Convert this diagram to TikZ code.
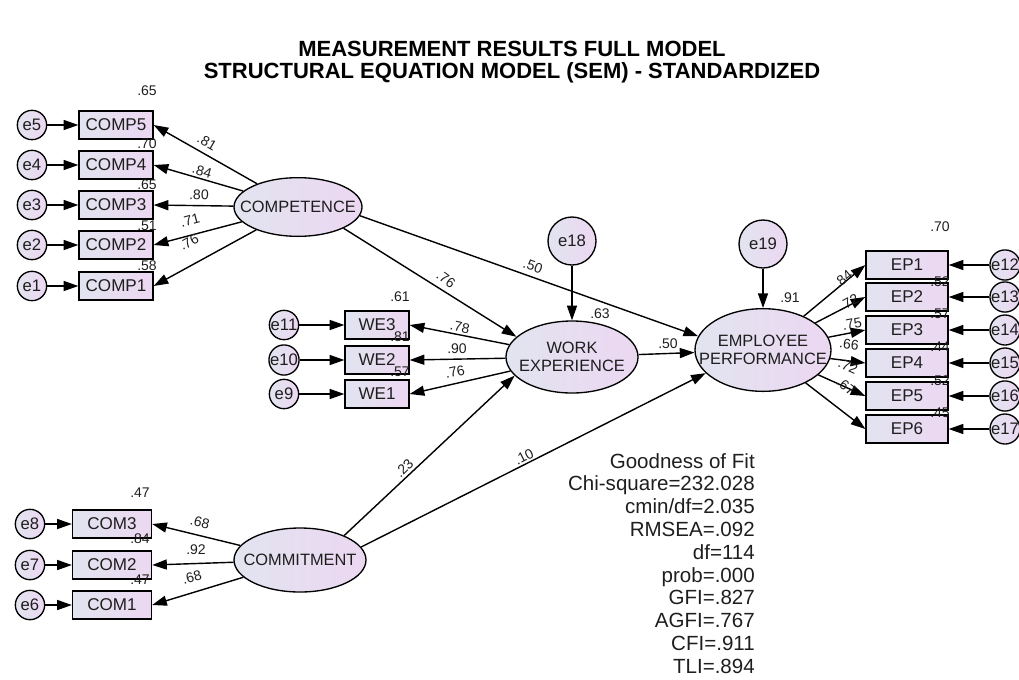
\documentclass[tikz,border=0pt]{standalone}
\usepackage{fontspec}
\setmainfont{Liberation Sans}
\usetikzlibrary{arrows.meta,shapes.geometric}
\definecolor{fillL}{RGB}{226,228,240}
\definecolor{fillR}{RGB}{236,215,241}
\definecolor{ink}{RGB}{30,30,30}
\begin{document}
\begin{tikzpicture}[x=0.75pt,y=-0.75pt,
  shade box/.style={draw=black, line width=1pt, left color=fillL, right color=fillR},
  lat/.style={shade box, ellipse, inner sep=0pt},
  lattext/.style={font=\fontsize{12.3}{13.8}\selectfont, text=ink, align=center, inner sep=0pt},
  obs/.style={shade box, rectangle, inner sep=0pt, minimum height=21pt, font=\fontsize{12.8}{13}\selectfont, text=ink},
  err/.style={shade box, circle, inner sep=0pt, minimum size=22pt, font=\fontsize{12.5}{13}\selectfont, text=ink},
  path/.style={-{Triangle[length=11pt,width=7.5pt]}, line width=1.05pt},
  est/.style={font=\fontsize{10.5}{11}\selectfont, text=ink, inner sep=0pt},
  fit/.style={font=\fontsize{15.4}{17.1}\selectfont, text=ink, align=right, inner sep=0pt},
  title/.style={font=\fontsize{16.5}{16.5}\bfseries\selectfont, align=center, inner sep=0pt}
]
\useasboundingbox (0,0) rectangle (1019,679);
\clip (0,0) rectangle (1019,679);

% title
\node[title] (title) at (512,62) {MEASUREMENT RESULTS FULL MODEL\\STRUCTURAL EQUATION MODEL (SEM) - STANDARDIZED};

% latent variables
\node[lat, minimum width=96pt, minimum height=44pt, label={[lattext]center:COMPETENCE}] (comp) at (298,207) {};
\node[lat, minimum width=99pt, minimum height=48pt, label={[lattext]center:COMMITMENT}] (comm) at (300,560) {};
\node[lat, minimum width=99pt, minimum height=54pt, label={[lattext]center:{WORK\\EXPERIENCE}}] (we) at (572,357) {};
\node[lat, minimum width=102pt, minimum height=62pt, label={[lattext]center:{EMPLOYEE\\PERFORMANCE}}] (ep) at (763,350) {};

% disturbances
\node[err, minimum size=36pt] (e18) at (572,241) {e18};
\node[err, minimum size=36pt] (e19) at (763,244) {e19};

% COMPETENCE indicators
\foreach \i/\y in {5/125,4/165,3/205,2/245,1/286}{
  \node[obs, minimum width=55.5pt] (comp\i) at (116,\y) {COMP\i};
  \node[err] (e\i) at (32,\y) {e\i};
  \draw[path] (e\i) -- (comp\i);
  \draw[path] (comp) -- (comp\i.east);
}
% WORK EXPERIENCE indicators
\foreach \i/\e/\y in {3/11/325,2/10/360,1/9/394}{
  \node[obs, minimum width=48pt] (we\i) at (377,\y) {WE\i};
  \node[err] (e\e) at (284,\y) {e\e};
  \draw[path] (e\e) -- (we\i);
  \draw[path] (we) -- (we\i.east);
}
% COMMITMENT indicators
\foreach \i/\e/\y in {3/8/524,2/7/565,1/6/605}{
  \node[obs, minimum width=59.25pt] (com\i) at (112,\y) {COM\i};
  \node[err] (e\e) at (30,\y) {e\e};
  \draw[path] (e\e) -- (com\i);
  \draw[path] (comm) -- (com\i.east);
}
% EMPLOYEE PERFORMANCE indicators
\foreach \i/\e/\y in {1/12/265,2/13/297,3/14/330,4/15/363,5/16/396,6/17/429}{
  \node[obs, minimum width=61.5pt] (ep\i) at (907,\y) {EP\i};
  \node[err] (e\e) at (1005,\y) {e\e};
  \draw[path] (e\e) -- (ep\i);
  \draw[path] (ep) -- (ep\i.west);
}

% structural paths
\draw[path] (comp.-25) -- (we.160);
\draw[path] (comp.-8) -- (ep.168);
\draw[path] (we) -- (ep);
\draw[path] (e18) -- (we);
\draw[path] (e19) -- (ep);
\draw[path] (comm.29) -- (we.198);
\draw[path] (comm.12) -- (ep.202);

% squared multiple correlations
\node[est] (r1) at (147,91) {.65};
\node[est] (r2) at (147,144) {.70};
\node[est] (r3) at (147,185) {.65};
\node[est] (r4) at (147,226) {.51};
\node[est] (r5) at (147,266) {.58};
\node[est] (r6) at (400,297) {.61};
\node[est] (r7) at (400,337) {.81};
\node[est] (r8) at (400,372) {.57};
\node[est] (r9) at (940,227) {.70};
\node[est] (r10) at (940,282) {.52};
\node[est] (r11) at (940,314) {.57};
\node[est] (r12) at (940,347) {.44};
\node[est] (r13) at (940,381) {.52};
\node[est] (r14) at (940,413) {.45};
\node[est] (r15) at (140,493) {.47};
\node[est] (r16) at (140,539) {.84};
\node[est] (r17) at (140,580) {.47};
\node[est] (r18) at (600,314) {.63};
\node[est] (r19) at (790,298) {.91};

% loadings and path coefficients
\node[est, rotate=-30] (l1) at (207,142) {.81};
\node[est, rotate=-16] (l2) at (202,171) {.84};
\node[est, rotate=-2] (l3) at (199,195) {.80};
\node[est, rotate=15] (l4) at (190,220) {.71};
\node[est, rotate=29] (l5) at (189,242) {.76};
\node[est, rotate=-12] (l6) at (460,327) {.78};
\node[est] (l7) at (457,349) {.90};
\node[est, rotate=12] (l8) at (455,372) {.76};
\node[est, rotate=-14] (l9) at (200,522) {.68};
\node[est] (l10) at (196,550) {.92};
\node[est, rotate=16] (l11) at (192,577) {.68};
\node[est, rotate=40] (l12) at (843,279) {.84};
\node[est, rotate=28] (l13) at (849,302) {.72};
\node[est, rotate=11] (l14) at (852,324) {.75};
\node[est, rotate=-7] (l15) at (849,344) {.66};
\node[est, rotate=-24] (l16) at (848,366) {.72};
\node[est, rotate=-38] (l17) at (846,386) {.67};
\node[est, rotate=-36] (p1) at (446,279) {.76};
\node[est, rotate=-20] (p2) at (533,266) {.50};
\node[est] (p3) at (668,344) {.50};
\node[est, rotate=45] (p4) at (404,468) {.23};
\node[est, rotate=27] (p5) at (524,457) {.10};

% goodness of fit
\node[fit, anchor=north east] (gof) at (755,453) {Goodness of Fit\\Chi-square=232.028\\cmin/df=2.035\\RMSEA=.092\\df=114\\prob=.000\\GFI=.827\\AGFI=.767\\CFI=.911\\TLI=.894};
\end{tikzpicture}
\end{document}
